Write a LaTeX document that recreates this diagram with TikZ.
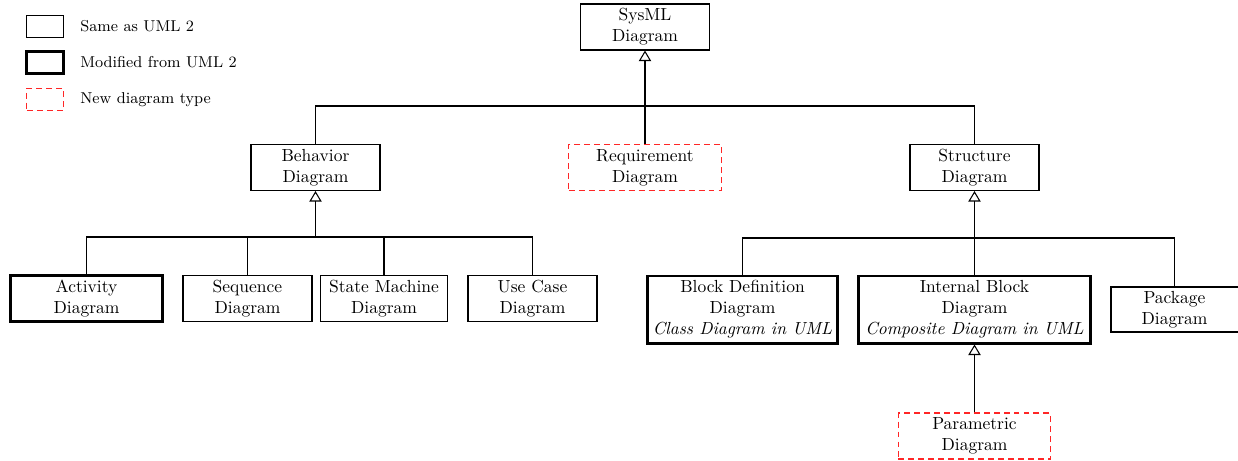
\documentclass[tikz,border=0pt]{standalone}
\usetikzlibrary{arrows.meta}
\begin{document}
\begin{tikzpicture}[x=0.5714pt,y=-0.5714pt,
  diag/.style={draw, line width=0.6pt, align=center, inner sep=0pt, font=\normalsize},
  modified/.style={diag, line width=1.7pt},
  newtype/.style={diag, draw=red!85, dash pattern=on 3.4pt off 2.3pt},
  std/.style={minimum width=73.7pt, minimum height=26.3pt},
  wide/.style={minimum width=87pt, minimum height=26.3pt},
  tall/.style={minimum height=38.3pt},
  conn/.style={line width=0.6pt},
  strong/.style={line width=1.1pt},
  gen/.style={line width=0.6pt, -{Triangle[open, length=6pt, width=7pt, line width=0.6pt]}},
  legendtext/.style={anchor=west, inner sep=0pt, font=\small}]
\useasboundingbox (0,0) rectangle (1238,461);

% legend
\node[diag, minimum width=20.6pt, minimum height=13.1pt] (lsame) at (45,26.5) {};
\node[legendtext] (tsame) at (80,26.5) {Same as UML 2};
\node[modified, minimum width=20.6pt, minimum height=13.1pt] (lmod) at (45,62.5) {};
\node[legendtext] (tmod) at (80,62.5) {Modified from UML 2};
\node[newtype, minimum width=20.6pt, minimum height=13.1pt] (lnew) at (45,99.5) {};
\node[legendtext] (tnew) at (80,99.5) {New diagram type};

% top level
\node[diag, std] (sysml) at (645,27) {SysML\\Diagram};

% second level
\node[diag, std] (behavior) at (315.5,167.5) {Behavior\\Diagram};
\node[newtype, wide] (requirement) at (645,167.5) {Requirement\\Diagram};
\node[diag, std] (structure) at (974.5,167.5) {Structure\\Diagram};

% behavior diagrams
\node[modified, wide] (activity) at (86.5,298.5) {Activity\\Diagram};
\node[diag, std] (sequence) at (247.5,298.5) {Sequence\\Diagram};
\node[diag, minimum width=73.1pt, minimum height=26.3pt] (statemachine) at (384,298.5) {State Machine\\Diagram};
\node[diag, std] (usecase) at (532.5,298.5) {Use Case\\Diagram};

% structure diagrams
\node[modified, tall, minimum width=109.1pt] (bdd) at (742.5,309.5) {Block Definition\\Diagram\\\textit{Class Diagram in UML}};
\node[modified, tall, minimum width=133.1pt] (ibd) at (974.5,309.5) {Internal Block\\Diagram\\\textit{Composite Diagram in UML}};
\node[diag, minimum width=72.6pt, minimum height=25.7pt] (package) at (1174.5,309.5) {Package\\Diagram};
\node[newtype, wide] (parametric) at (974.5,436) {Parametric\\Diagram};

% junction points of the generalization trees
\coordinate (topbar) at (645,106);
\coordinate (bbar) at (315.5,237);
\coordinate (sbar) at (974.5,238);

% top tree
\draw[conn] (behavior.north) |- (topbar) -| (structure.north);
\draw[gen, line width=0.9pt] (requirement.north) -- (sysml.south);

% behavior tree
\draw[gen] (bbar) -- (behavior.south);
\draw[strong] (activity.north) |- (bbar);
\draw[conn] (bbar) -| (usecase.north);
\draw[conn] (sequence.north) -- (sequence.north |- bbar);
\draw[conn] (statemachine.north) -- (statemachine.north |- bbar);

% structure tree
\draw[gen, line width=1.1pt] (ibd.north) -- (structure.south);
\draw[conn] (bdd.north) |- (sbar) -| (package.north);

% parametric
\draw[gen] (parametric.north) -- (ibd.south);
\end{tikzpicture}
\end{document}
